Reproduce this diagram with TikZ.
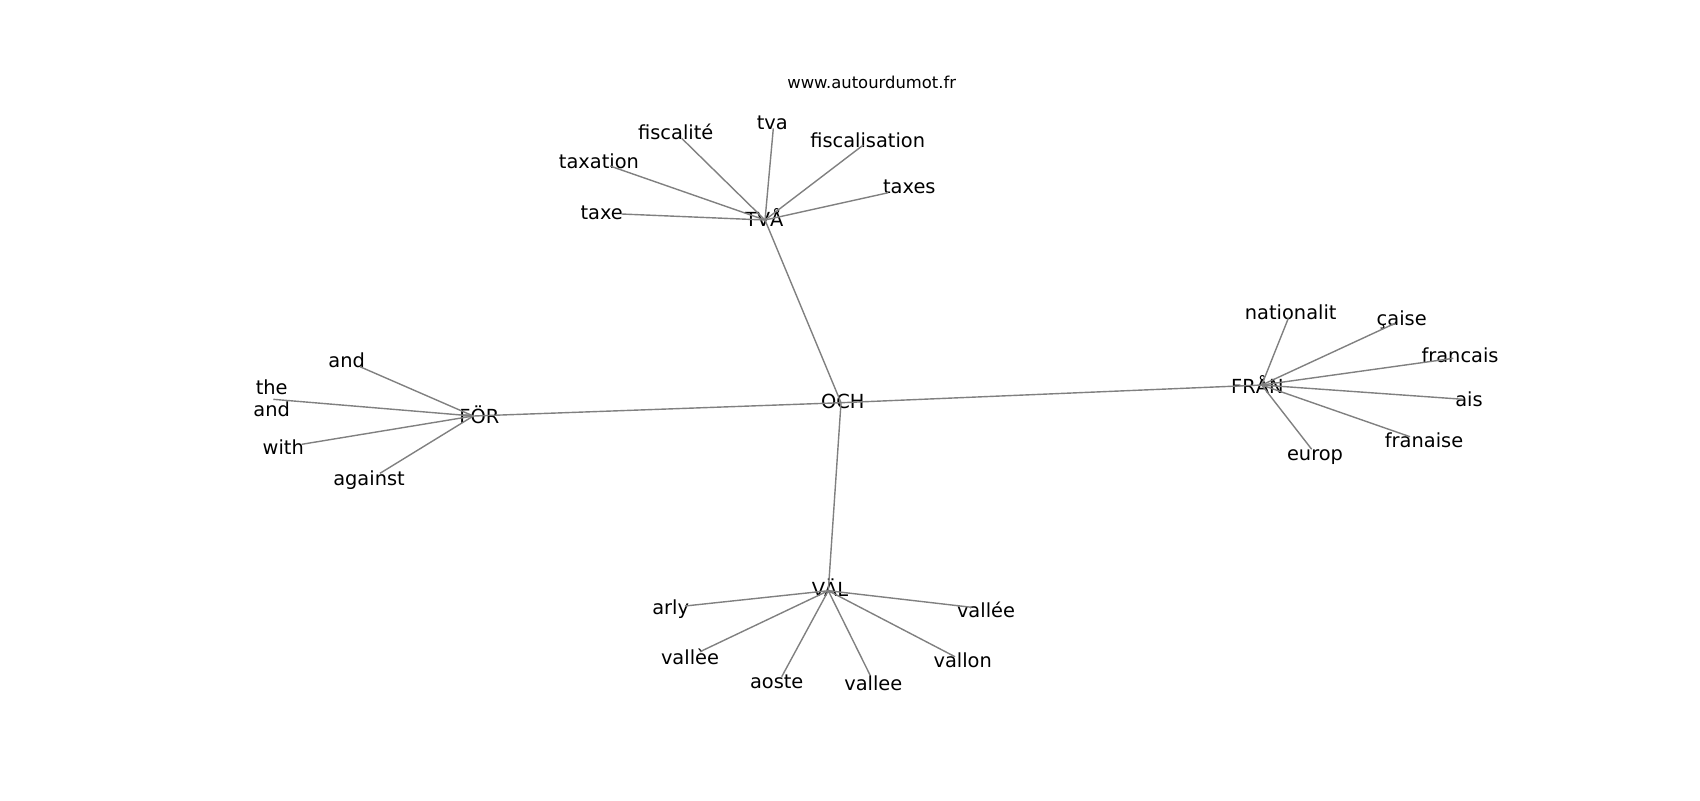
\documentclass[tikz,border=0pt]{standalone}
\usepackage{fontspec}
\setmainfont{DejaVu Sans}
\tikzset{
  word/.style={inner sep=0pt, align=center, font=\fontsize{9.7}{11.2}\selectfont},
  site/.style={inner sep=0pt, font=\fontsize{8.2}{10}\selectfont},
  link/.style={draw=gray, line width=0.7pt},
}
% #1 name, #2 where the lines meet, #3 where the text sits, #4 text
\newcommand\word[4]{\coordinate (#1) at (#2); \node[word] (#1-txt) at (#3) {#4};}

\begin{document}
\begin{tikzpicture}[x=0.5pt, y=-0.5pt]
    \useasboundingbox (0,0) rectangle (1700,800);
    \node[site] (site) at (871.7,82.7) {www.autourdumot.fr};
    % hubs
    \word{och}{841,402.7}{842.7,401.7}{OCH}
    \word{tva}{765,220}{764.3,217}{TVÅ}
    \word{for}{473.3,416}{479.3,415}{FÖR}
    \word{fran}{1261.7,385}{1257.3,384}{FRÅN}
    \word{val}{828.3,590.7}{830,588}{VÄL}
    % TVÅ
    \word{taxe}{621.7,214}{601.7,212.7}{taxe}
    \word{taxation}{610,166}{599,161.7}{taxation}
    \word{fiscalite}{681.7,138.3}{675.7,131.7}{fiscalité}
    \word{tvaw}{773.3,128.3}{772.3,123.3}{tva}
    \word{fiscalisation}{863.3,145}{867.7,140}{fiscalisation}
    \word{taxes}{888.3,192.7}{909.3,186.7}{taxes}
    % FÖR
    \word{and}{360,366.7}{346.7,360.7}{and}
    \word{theand}{273.3,399.3}{271.7,398.3}{the\\and}
    \word{with}{301.7,444.3}{283.3,446.7}{with}
    \word{against}{380,473.3}{369,480.5}{against}
    % FRÅN
    \word{nationalit}{1288.3,318.3}{1290.7,312.7}{nationalit}
    \word{caise}{1395,323.3}{1401.7,319.5}{çaise}
    \word{francais}{1453.3,358.3}{1460,355}{francais}
    \word{ais}{1463.3,399.3}{1469,399.3}{ais}
    \word{franaise}{1410,436.7}{1424,440}{franaise}
    \word{europ}{1311.7,449.3}{1315,457}{europ}
    % VÄL
    \word{arly}{685,606}{670.7,609.5}{arly}
    \word{vallee1}{700,651.7}{690,657.3}{vallèe}
    \word{aoste}{781.7,676.7}{776.7,681.7}{aoste}
    \word{vallee2}{870,675}{873.3,683.3}{vallee}
    \word{vallon}{955,656.7}{962.7,660.7}{vallon}
    \word{vallee3}{971.7,607.3}{986,610}{vallée}
    \path[link] (och) edge (tva) edge (for) edge (fran) edge (val);
    \foreach \w in {taxe,taxation,fiscalite,tvaw,fiscalisation,taxes}
        \draw[link] (tva) -- (\w);
    \foreach \w in {and,theand,with,against}
        \draw[link] (for) -- (\w);
    \foreach \w in {nationalit,caise,francais,ais,franaise,europ}
        \draw[link] (fran) -- (\w);
    \foreach \w in {arly,vallee1,aoste,vallee2,vallon,vallee3}
        \draw[link] (val) -- (\w);
\end{tikzpicture}
\end{document}
